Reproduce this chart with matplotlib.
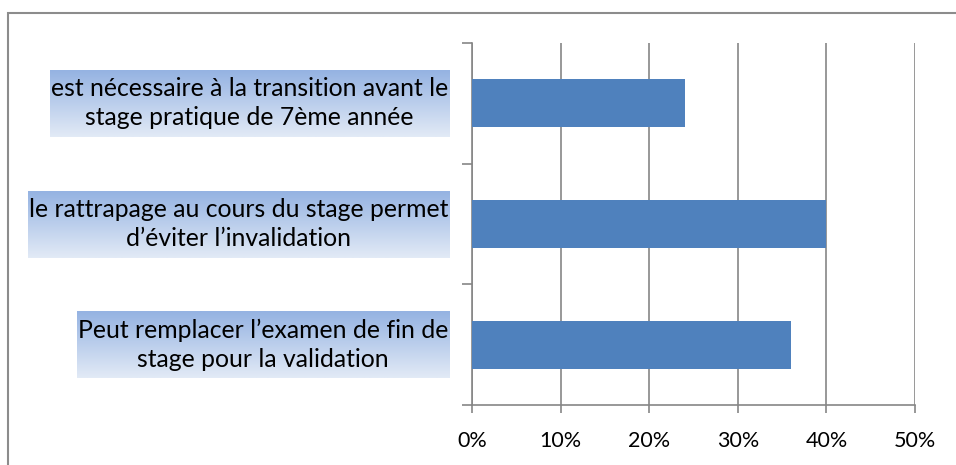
import numpy as np
import matplotlib
matplotlib.use("Agg")
from matplotlib import pyplot as plt
from matplotlib import transforms
from matplotlib.patches import Rectangle

plt.rcParams['font.family'] = ['Lato', 'DejaVu Sans']

# categories listed bottom to top
labels = ["Peut remplacer l\u2019examen de fin de\nstage pour la validation",
          "le rattrapage au cours du stage permet\nd\u2019\u00e9viter l\u2019invalidation",
          "est n\u00e9cessaire \u00e0 la transition avant le\nstage pratique de 7\u00e8me ann\u00e9e"]
values = [0.36, 0.40, 0.24]
xticks = [0, 0.1, 0.2, 0.3, 0.4, 0.5]
xticklabels = ["0%", "10%", "20%", "30%", "40%", "50%"]

bar_color = '#4F81BD'
grey = '#868686'

fig = plt.figure(figsize=(9.56, 4.65), dpi=100)
ax = fig.add_axes([0.4937, 0.129, 0.4634, 0.7785])

y = np.arange(len(labels))
ax.barh(y, values, height=0.4, color=bar_color, zorder=3)
ax.set_xlim(0, 0.5)
ax.set_ylim(-0.5, len(labels) - 0.5)

ax.set_xticks(xticks)
ax.set_xticklabels(xticklabels, fontsize=15.5)
ax.xaxis.grid(True, color=grey, linewidth=1.2, zorder=0)
ax.tick_params(axis='x', length=6, width=1.2, color=grey, pad=13)

# y ticks at the category boundaries, no labels
ax.set_yticks(np.arange(-0.5, len(labels), 1.0))
ax.set_yticklabels([])
ax.tick_params(axis='y', length=7, width=1.2, color=grey, direction='out')

for s in ['top', 'right']:
    ax.spines[s].set_visible(False)
for s in ['left', 'bottom']:
    ax.spines[s].set_color(grey)
    ax.spines[s].set_linewidth(1.2)

# category labels with a blue gradient behind them
trans = transforms.blended_transform_factory(ax.transAxes, ax.transData)
texts = []
for yi, lab in zip(y, labels):
    t = ax.text(-0.054, yi, lab, transform=trans, ha='right', va='center',
                multialignment='center', fontsize=17.8, color='black',
                linespacing=1.32, zorder=5, clip_on=False)
    texts.append(t)

fig.canvas.draw()
renderer = fig.canvas.get_renderer()
grad = np.linspace(0, 1, 64).reshape(-1, 1)
top_c = np.array([0x95, 0xB3, 0xE2]) / 255
bot_c = np.array([0xE2, 0xEA, 0xF6]) / 255
img = top_c[None, None, :] * (1 - grad[:, :, None]) + bot_c[None, None, :] * grad[:, :, None]
W, H = fig.bbox.width, fig.bbox.height
for t in texts:
    bb = t.get_window_extent(renderer)
    x0, x1 = bb.x0 - 1, bb.x1 + 1
    yc = (bb.y0 + bb.y1) / 2
    y0, y1 = yc - 33.5, yc + 33.5
    gax = fig.add_axes([x0 / W, y0 / H, (x1 - x0) / W, (y1 - y0) / H], zorder=-1)
    gax.imshow(img, aspect='auto', extent=[0, 1, 0, 1], interpolation='bilinear')
    gax.axis('off')

# outer frame
fig.patches.append(Rectangle((8 / W, -0.1), 1.2, (H - 13) / H + 0.1,
                             transform=fig.transFigure, fill=False,
                             edgecolor='#8C8C8C', linewidth=1.5))

fig.savefig('out.png', dpi=100)
